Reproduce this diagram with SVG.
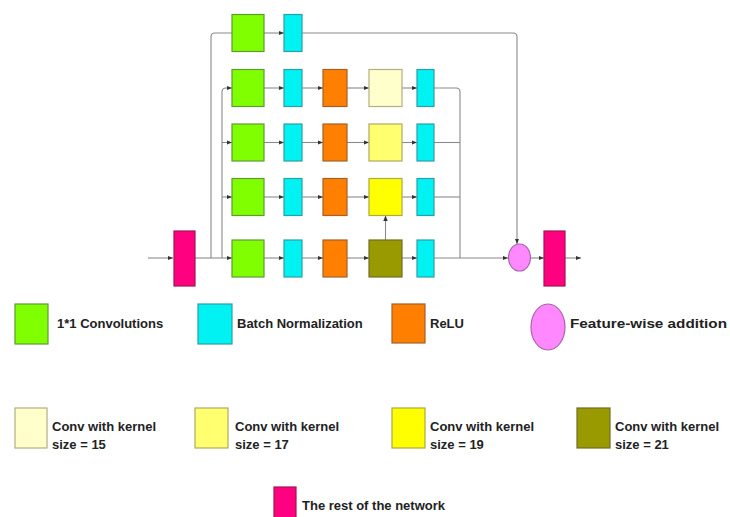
<svg xmlns="http://www.w3.org/2000/svg" width="730" height="517" viewBox="0 0 730 517">
  <style>
    .conv1 { fill: #80ff00; stroke: #5f9a35; stroke-width: 1.2; }
    .bn { fill: #00f2f2; stroke: #2a9fa5; stroke-width: 1.2; }
    .relu { fill: #ff8000; stroke: #a5602a; stroke-width: 1.2; }
    .k15 { fill: #ffffcc; stroke: #b5ad85; stroke-width: 1.2; }
    .k17 { fill: #ffff70; stroke: #b0a860; stroke-width: 1.2; }
    .k19 { fill: #ffff00; stroke: #b0a840; stroke-width: 1.2; }
    .k21 { fill: #999900; stroke: #6e6e25; stroke-width: 1.2; }
    .rest { fill: #ff0080; stroke: #a01550; stroke-width: 1.2; }
    .add { fill: #ff88ff; stroke: #a865a8; stroke-width: 1.2; }
    .wire { fill: none; stroke: #8a8a8a; stroke-width: 1.1; }
    .arr { marker-end: url(#head); }
    .lbl { font-family: "Liberation Sans", Arial, sans-serif; font-weight: bold; font-size: 13px; fill: #222; }
  </style>
  <defs>
    <marker id="head" viewBox="0 0 10 10" refX="10" refY="5" markerWidth="5" markerHeight="5" orient="auto">
      <path d="M0,1 L10,5 L0,9 z" fill="#333"/>
    </marker>
  </defs>
  <rect width="730" height="517" fill="#ffffff"/>

  <!-- connectors -->
  <g id="connectors">
    <!-- input -->
    <path class="wire arr" d="M148,258 H173"/>
    <!-- fan-out from first block -->
    <path class="wire" d="M195,258 H222"/>
    <path class="wire" d="M211,258 V37 Q211,33 215,33 H232"/>
    <path class="wire arr" d="M222,258 H232"/>
    <path class="wire arr" d="M222,258 V92 Q222,88 226,88 H232"/>
    <path class="wire arr" d="M222,142.5 H232"/>
    <path class="wire arr" d="M222,197 H232"/>
    <!-- shortcut branch -->
    <path class="wire arr" d="M264,33 H284"/>
    <path class="wire arr" d="M302,33 H513 Q517,33 517,37 V244"/>
    <!-- rows -->
    <path class="wire arr" d="M264,88 H284"/>
    <path class="wire arr" d="M302,88 H323"/>
    <path class="wire arr" d="M347,88 H369"/>
    <path class="wire arr" d="M402,88 H417"/>
    <path class="wire arr" d="M264,142.5 H284"/>
    <path class="wire arr" d="M302,142.5 H323"/>
    <path class="wire arr" d="M347,142.5 H369"/>
    <path class="wire arr" d="M402,142.5 H417"/>
    <path class="wire arr" d="M264,197 H284"/>
    <path class="wire arr" d="M302,197 H323"/>
    <path class="wire arr" d="M347,197 H369"/>
    <path class="wire arr" d="M402,197 H417"/>
    <path class="wire arr" d="M264,258 H284"/>
    <path class="wire arr" d="M302,258 H323"/>
    <path class="wire arr" d="M347,258 H369"/>
    <path class="wire arr" d="M402,258 H417"/>
    <path class="wire arr" d="M385.5,240 V215.5"/>
    <!-- merge -->
    <path class="wire" d="M434,88 H456 Q460,88 460,92 V258"/>
    <path class="wire" d="M434,142.5 H460"/>
    <path class="wire" d="M434,197 H460"/>
    <path class="wire arr" d="M434,258 H508"/>
    <path class="wire arr" d="M531,258 H544"/>
    <path class="wire arr" d="M565,258 H581"/>
  </g>

  <!-- network blocks -->
  <g id="rest-in"><rect class="rest" x="174" y="231" width="21" height="55"/></g>

  <g id="shortcut-conv"><rect class="conv1" x="232" y="14.5" width="32" height="37"/></g>
  <g id="shortcut-bn"><rect class="bn" x="284" y="14.5" width="18" height="37"/></g>

  <g id="r1-conv"><rect class="conv1" x="232" y="69.5" width="32" height="37"/></g>
  <g id="r1-bn"><rect class="bn" x="284" y="69.5" width="18" height="37"/></g>
  <g id="r1-relu"><rect class="relu" x="323" y="69.5" width="24" height="37"/></g>
  <g id="r1-k15"><rect class="k15" x="369" y="69.5" width="33" height="37"/></g>
  <g id="r1-bn2"><rect class="bn" x="417" y="69.5" width="17" height="37"/></g>

  <g id="r2-conv"><rect class="conv1" x="232" y="124" width="32" height="37"/></g>
  <g id="r2-bn"><rect class="bn" x="284" y="124" width="18" height="37"/></g>
  <g id="r2-relu"><rect class="relu" x="323" y="124" width="24" height="37"/></g>
  <g id="r2-k17"><rect class="k17" x="369" y="124" width="33" height="37"/></g>
  <g id="r2-bn2"><rect class="bn" x="417" y="124" width="17" height="37"/></g>

  <g id="r3-conv"><rect class="conv1" x="232" y="178.5" width="32" height="37"/></g>
  <g id="r3-bn"><rect class="bn" x="284" y="178.5" width="18" height="37"/></g>
  <g id="r3-relu"><rect class="relu" x="323" y="178.5" width="24" height="37"/></g>
  <g id="r3-k19"><rect class="k19" x="369" y="178.5" width="33" height="37"/></g>
  <g id="r3-bn2"><rect class="bn" x="417" y="178.5" width="17" height="37"/></g>

  <g id="r4-conv"><rect class="conv1" x="232" y="240" width="32" height="37"/></g>
  <g id="r4-bn"><rect class="bn" x="284" y="240" width="18" height="37"/></g>
  <g id="r4-relu"><rect class="relu" x="323" y="240" width="24" height="37"/></g>
  <g id="r4-k21"><rect class="k21" x="369" y="240" width="33" height="37"/></g>
  <g id="r4-bn2"><rect class="bn" x="417" y="240" width="17" height="37"/></g>

  <g id="add"><ellipse class="add" cx="519.5" cy="257.5" rx="11" ry="13.5"/></g>
  <g id="rest-out"><rect class="rest" x="544" y="231" width="21" height="55"/></g>

  <!-- legend -->
  <g id="legend-conv1"><rect class="conv1" x="15" y="304" width="33" height="40"/><text class="lbl" x="57" y="328">1*1 Convolutions</text></g>
  <g id="legend-bn"><rect class="bn" x="198" y="304" width="34" height="40"/><text class="lbl" x="237" y="328">Batch Normalization</text></g>
  <g id="legend-relu"><rect class="relu" x="392" y="304" width="33" height="39"/><text class="lbl" x="430" y="328">ReLU</text></g>
  <g id="legend-add"><ellipse class="add" cx="548" cy="327" rx="17" ry="23"/><text class="lbl" x="570" y="328" textLength="157" lengthAdjust="spacingAndGlyphs">Feature-wise addition</text></g>

  <g id="legend-k15"><rect class="k15" x="15" y="408" width="32" height="40"/><text class="lbl" x="52" y="431">Conv with kernel</text><text class="lbl" x="52" y="449">size = 15</text></g>
  <g id="legend-k17"><rect class="k17" x="195" y="408" width="33" height="40"/><text class="lbl" x="235" y="431">Conv with kernel</text><text class="lbl" x="235" y="449">size = 17</text></g>
  <g id="legend-k19"><rect class="k19" x="392" y="408" width="33" height="40"/><text class="lbl" x="430" y="431">Conv with kernel</text><text class="lbl" x="430" y="449">size = 19</text></g>
  <g id="legend-k21"><rect class="k21" x="577" y="408" width="33" height="40"/><text class="lbl" x="615" y="431">Conv with kernel</text><text class="lbl" x="615" y="449">size = 21</text></g>

  <g id="legend-rest"><rect class="rest" x="274" y="487" width="22" height="34"/><text class="lbl" x="302" y="510">The rest of the network</text></g>
</svg>
